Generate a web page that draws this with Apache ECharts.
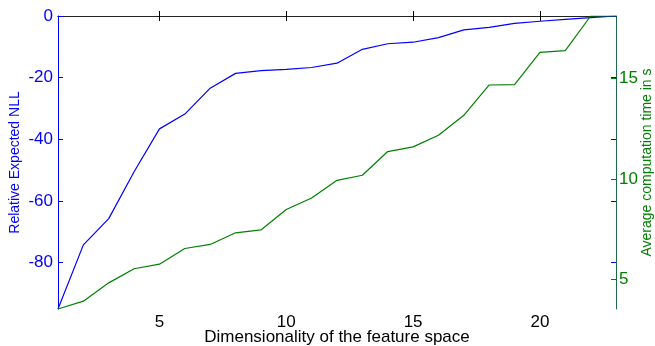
<!DOCTYPE html>
<html><head><meta charset="utf-8">
<script src="https://cdn.jsdelivr.net/npm/echarts@6/dist/echarts.min.js"></script>
<style>html,body{margin:0;padding:0;background:#fff}#c{width:655px;height:346px}</style>
</head><body><div id="c"></div>
<script>
const dims = [1,2,3,4,5,6,7,8,9,10,11,12,13,14,15,16,17,18,19,20,21,22,23];
const nll = [-95,-74.2,-65.7,-50.5,-36.6,-31.8,-23.4,-18.6,-17.7,-17.3,-16.7,-15.3,-10.8,-9.0,-8.5,-7.0,-4.5,-3.7,-2.4,-1.7,-1.1,-0.5,0];
const timeS = [3.53,3.92,4.83,5.53,5.76,6.54,6.74,7.32,7.46,8.48,9.05,9.93,10.18,11.36,11.59,12.17,13.16,14.67,14.69,16.29,16.38,18.1,18.1];
const xTicks = [5,10,15,20];
const nllTicks = [0,-20,-40,-60,-80];
const timeTicks = [5,10,15];

const FONT = '"Liberation Sans", Arial, sans-serif';
const BLUE = '#0000ff', GREEN = '#008000';
const chart = echarts.init(document.getElementById('c'));
chart.setOption({
  animation: false,
  grid: {left: 58, right: 39, top: 16, bottom: 37, containLabel: false, outerBoundsMode: 'none'},
  xAxis: [{
    type: 'value', min: 1, max: 23, position: 'bottom',
    name: 'Dimensionality of the feature space', nameLocation: 'middle', nameGap: 20, nameMoveOverlap: false,
    nameTextStyle: {color: '#000', fontSize: 17, fontFamily: FONT},
    axisLine: {lineStyle: {color: '#000', width: 1}},
    axisTick: {inside: true, length: 5, customValues: xTicks, lineStyle: {color: '#000'}},
    axisLabel: {customValues: xTicks, color: '#000', fontSize: 17, fontFamily: FONT, margin: 5},
    splitLine: {show: false}
  }, {
    type: 'value', min: 1, max: 23, position: 'top',
    axisLine: {lineStyle: {color: '#222', width: 1}},
    axisTick: {inside: true, length: 5, customValues: xTicks, lineStyle: {color: '#000'}},
    axisLabel: {show: false}, splitLine: {show: false}
  }],
  yAxis: [{
    type: 'value', min: -95, max: 0, position: 'left',
    name: 'Relative Expected NLL', nameLocation: 'middle', nameGap: 36, nameRotate: 90, nameMoveOverlap: false,
    nameTextStyle: {color: BLUE, fontSize: 14, fontFamily: FONT},
    axisLine: {show: true, lineStyle: {color: BLUE, width: 1}},
    axisTick: {show: true, inside: true, length: 5, customValues: nllTicks, lineStyle: {color: BLUE}},
    axisLabel: {customValues: nllTicks, color: BLUE, fontSize: 17, fontFamily: FONT, margin: 5},
    splitLine: {show: false}
  }, {
    type: 'value', min: 3.53, max: 18.1, position: 'right',
    name: 'Average computation time in s', nameLocation: 'middle', nameGap: 24, nameRotate: 90, nameMoveOverlap: false,
    nameTextStyle: {color: GREEN, fontSize: 14, fontFamily: FONT},
    axisLine: {show: true, lineStyle: {color: '#1a6a4a', width: 1}},
    axisTick: {show: true, inside: true, length: 5, customValues: timeTicks, lineStyle: {color: GREEN}},
    axisLabel: {customValues: timeTicks, color: GREEN, fontSize: 17, fontFamily: FONT, margin: 3},
    splitLine: {show: false}
  }, {
    type: 'value', min: -95, max: 0, position: 'right',
    axisLine: {show: false},
    axisTick: {show: true, inside: true, length: 5, customValues: nllTicks, lineStyle: {color: BLUE}},
    axisLabel: {show: false}, splitLine: {show: false}
  }],
  series: [{
    type: 'line', xAxisIndex: 0, yAxisIndex: 0, showSymbol: false,
    data: dims.map((d, i) => [d, nll[i]]),
    lineStyle: {color: BLUE, width: 1.2}, itemStyle: {color: BLUE}
  }, {
    type: 'line', xAxisIndex: 0, yAxisIndex: 1, showSymbol: false,
    data: dims.map((d, i) => [d, timeS[i]]),
    lineStyle: {color: GREEN, width: 1.2}, itemStyle: {color: GREEN}
  }]
});
</script></body></html>
